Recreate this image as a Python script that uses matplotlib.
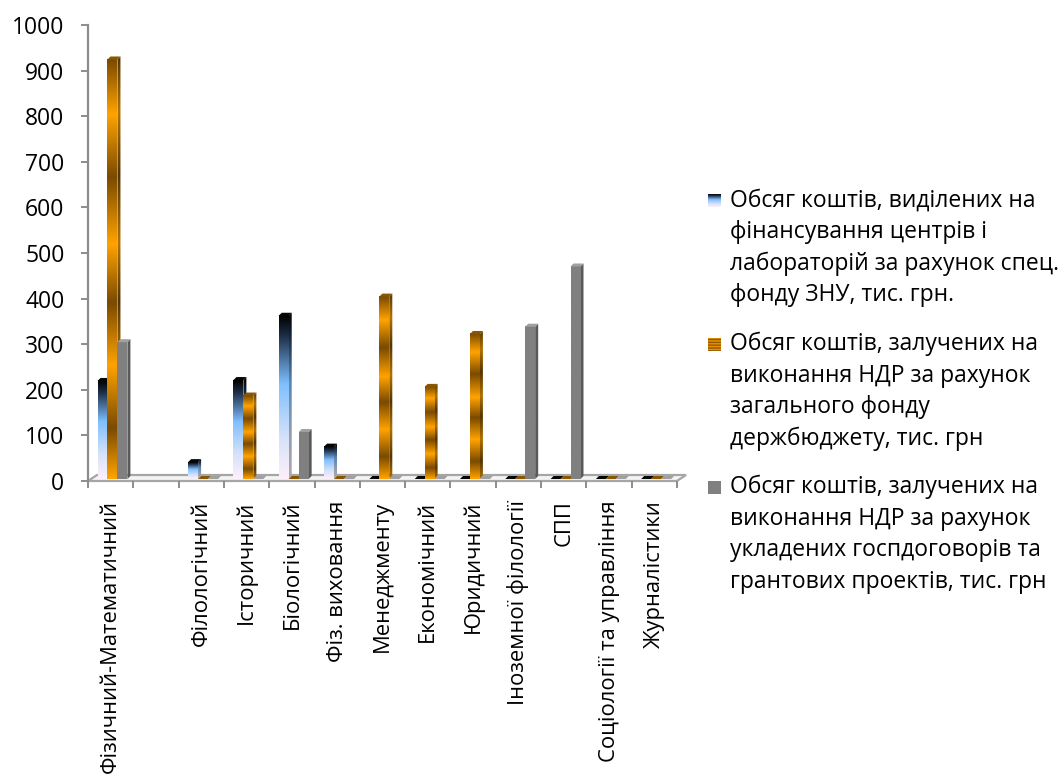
import numpy as np
import matplotlib.pyplot as plt
from matplotlib.colors import LinearSegmentedColormap
from matplotlib.patches import Polygon

plt.rcParams['font.family'] = ['Open Sans', 'DejaVu Sans']

# Факультети (друга позиція порожня)
categories = ['Фізичний-Математичний', '', 'Філологічний', 'Історичний',
              'Біологічний', 'Фіз. виховання', 'Менеджменту', 'Економічний',
              'Юридичний', 'Іноземної філології', 'СПП',
              'Соціології та управління', 'Журналістики']

nan = np.nan
# тис. грн
spec_fund = [215, nan, 37, 217, 358, 71, 0, 0, 0, 0, 0, 0, 0]
state_budget = [920, nan, 0, 183, 0, 0, 400, 202, 318, 0, 0, 0, 0]
contracts = [300, nan, 0, 0, 103, 0, 0, 0, 0, 334, 466, 0, 0]

series_names = [
    ['Обсяг коштів, виділених на', 'фінансування центрів і',
     'лабораторій за рахунок спец.', 'фонду ЗНУ, тис. грн.'],
    ['Обсяг коштів, залучених на', 'виконання НДР за рахунок',
     'загального фонду', 'держбюджету, тис. грн'],
    ['Обсяг коштів, залучених на', 'виконання НДР за рахунок',
     'укладених госпдоговорів та', 'грантових проектів, тис. грн'],
]

y_ticks = np.arange(0, 1001, 100)

# градієнти заливки
blue_cmap = LinearSegmentedColormap.from_list(
    'blue', [(0, '#000000'), (0.12, '#1c2c44'), (0.42, '#7fbfff'),
             (0.75, '#d6e2f8'), (1, '#fdf0fb')])
brown, orange = '#7a4a00', '#ffa300'
gold_cmap = LinearSegmentedColormap.from_list(
    'gold', [(0, brown), (0.13, orange), (0.28, brown), (0.44, orange),
             (0.58, brown), (0.73, orange), (0.88, brown), (1, orange)])
gray_cmap = LinearSegmentedColormap.from_list('gray', ['#808080', '#808080'])


def darker(cmap, k=0.7):
    cols = cmap(np.linspace(0, 1, 256))
    cols[:, :3] *= k
    return LinearSegmentedColormap.from_list(cmap.name + '_d', cols)


styles = [
    (spec_fund, blue_cmap, '#050505'),
    (state_budget, gold_cmap, '#8a5600'),
    (contracts, gray_cmap, '#a0a0a0'),
]

fs = 16.5

fig = plt.figure(figsize=(10.63, 7.78), dpi=100)
ax = fig.add_axes([88 / 1063, 1 - 481 / 778, 589 / 1063, 456 / 778])

# пікселі -> одиниці даних
px_x = 1 / 45.3
px_y = 1000 / 456
w = 0.22
shift = 0.04
lift = 2 * px_y
ddx, ddy = 3 * px_x, 3 * px_y

grad = np.linspace(0, 1, 256).reshape(-1, 1)

# підлога
fdx, fdy = 9 * px_x, 6 * px_y
floor = Polygon([(-0.5, 0), (12.5, 0), (12.5 + fdx, fdy), (-0.5 + fdx, fdy)],
                closed=True, facecolor='#f4f4f4', edgecolor='#a6a6a6',
                lw=1.6, clip_on=False, zorder=1)
ax.add_patch(floor)

x = np.arange(len(categories))
z = 2
for k, (vals, cmap, top_col) in enumerate(styles):
    side_cmap = darker(cmap)
    for xi, v in zip(x, vals):
        if np.isnan(v):
            continue
        x0 = xi + (k - 1.5) * w + shift
        b = lift
        h = v
        if h > 0:
            # бічна грань
            side = Polygon([(x0 + w, b), (x0 + w, b + h), (x0 + w + ddx, b + h + ddy),
                            (x0 + w + ddx, b + ddy)], closed=True,
                           facecolor='none', edgecolor='none', zorder=z)
            ax.add_patch(side)
            im = ax.imshow(grad, cmap=side_cmap, aspect='auto', interpolation='bilinear',
                           extent=[x0 + w, x0 + w + ddx, b, b + h + ddy], zorder=z)
            im.set_clip_path(side)
            # передня грань
            ax.imshow(grad, cmap=cmap, aspect='auto', interpolation='bilinear',
                      extent=[x0, x0 + w, b, b + h], zorder=z + 0.1)
        # верхня грань
        top = Polygon([(x0, b + h), (x0 + w, b + h), (x0 + w + ddx, b + h + ddy),
                       (x0 + ddx, b + h + ddy)], closed=True,
                      facecolor=top_col, edgecolor='none', zorder=z + 0.2)
        ax.add_patch(top)
    z += 1

ax.set_xlim(-0.5, len(categories) - 0.5)
ax.set_ylim(0, 1000)

for s in ['top', 'right', 'bottom']:
    ax.spines[s].set_visible(False)
ax.spines['left'].set_color('#8c8c8c')
ax.spines['left'].set_linewidth(1.6)

ax.set_yticks(y_ticks)
ax.tick_params(axis='y', direction='out', length=5, width=1.4, color='#8c8c8c',
               labelsize=fs, pad=12)
ax.set_xticks(x)
ax.set_xticklabels(categories, rotation=90, va='top', ha='center', fontsize=15.8)
ax.tick_params(axis='x', length=0, pad=14)
ax.set_xticks(np.arange(-0.5, len(categories), 1), minor=True)
ax.tick_params(axis='x', which='minor', length=5, width=1.4, color='#8c8c8c')

# легенда
lg = fig.add_axes([0, 0, 1, 1])
lg.axis('off')
line_starts = [200.5, 344, 487]
marker_cmaps = [blue_cmap, None, gray_cmap]
for i, lines in enumerate(series_names):
    y0 = line_starts[i]
    if i == 1:
        stripes = np.linspace(0, 1, 64).reshape(-1, 1)
        lg.imshow(np.cos(stripes * 2 * np.pi * 4.5), cmap=LinearSegmentedColormap.from_list(
            'st', [brown, orange]), aspect='auto', interpolation='bilinear',
            extent=[708, 721, y0 + 6.5, y0 - 6.5])
    else:
        lg.imshow(grad, cmap=marker_cmaps[i], aspect='auto', interpolation='bilinear',
                  extent=[708, 721, y0 + 6.5, y0 - 6.5])
    for j, t in enumerate(lines):
        lg.text(729.5, y0 + j * 31.6, t, fontsize=fs, va='center', ha='left')
lg.set_xlim(0, 1063)
lg.set_ylim(778, 0)

fig.savefig('out.png', dpi=100)
